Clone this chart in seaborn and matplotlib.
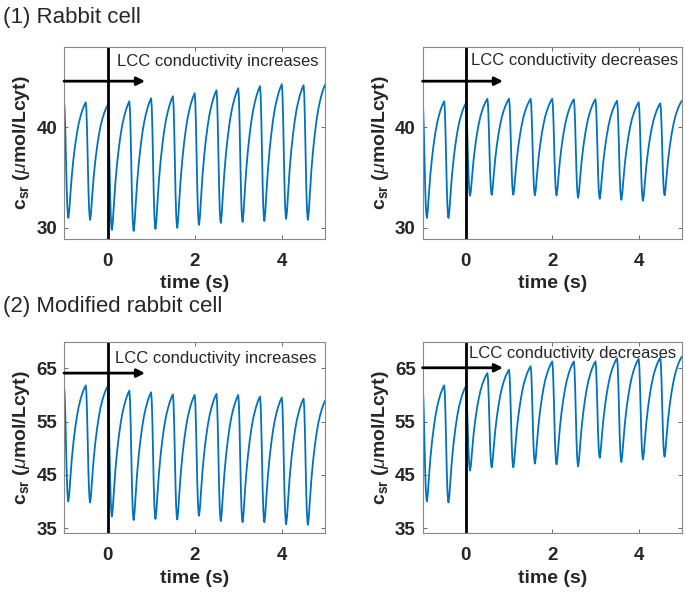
import numpy as np
import pandas as pd
import matplotlib
matplotlib.use('Agg')
import matplotlib.pyplot as plt
import seaborn as sns

# stimulus (peak) times, one every 0.5 s, plus the end of the window
peak_t = [-1.0, -0.5, 0.0, 0.5, 1.0, 1.5, 2.0, 2.5, 3.0, 3.5, 4.0, 4.5, 5.0]

# peaks / troughs
peaks_rabbit_inc = [42.6, 42.5, 42.2, 42.6, 42.9, 43.1, 43.4, 43.7, 43.9, 44.1, 44.3, 44.2, 44.3]
troughs_rabbit_inc = [31.0, 30.8, 29.8, 29.7, 29.9, 30.0, 30.3, 30.5, 30.6, 30.7, 30.9, 30.8]

peaks_rabbit_dec = [42.5, 42.6, 42.4, 42.85, 42.85, 42.85, 42.85, 42.8, 42.8, 42.65, 42.5, 42.4, 42.65]
troughs_rabbit_dec = [31.0, 31.0, 33.2, 33.3, 33.3, 33.25, 33.25, 33.0, 32.9, 32.8, 32.7, 33.25]

peaks_mod_inc = [61.6, 61.8, 61.6, 60.8, 60.5, 60.1, 60.0, 60.2, 60.0, 59.7, 59.5, 59.3, 59.0]
troughs_mod_inc = [40.0, 39.8, 37.2, 36.5, 36.7, 36.6, 37.3, 36.3, 36.1, 36.1, 35.7, 35.6]

peaks_mod_dec = [61.6, 61.8, 61.6, 64.1, 64.75, 65.4, 66.3, 66.3, 66.3, 66.9, 66.8, 67.0, 67.2]
troughs_mod_dec = [40.0, 39.8, 45.8, 46.4, 46.4, 47.1, 46.95, 46.6, 48.2, 47.4, 47.9, 48.4]

# shape of one beat (fraction of the swing)
drop_phase = [0.0, 0.15, 0.3, 0.45, 0.6, 0.75, 0.9, 1.0]
drop_frac = [1.0, 0.93, 0.75, 0.5, 0.27, 0.1, 0.02, 0.0]
rise_phase = [0.0, 0.05, 0.1, 0.2, 0.3, 0.4, 0.5, 0.6, 0.7, 0.8, 0.9, 1.0]
rise_frac = [0.0, 0.06, 0.17, 0.37, 0.52, 0.64, 0.74, 0.82, 0.88, 0.93, 0.97, 1.0]
drop_dur = 0.1
rise_dur = 0.4


def build_trace(peaks, troughs):
    t, c = [], []
    for k in range(len(troughs)):
        t0 = peak_t[k]
        p, tr, pn = peaks[k], troughs[k], peaks[k + 1]
        for ph, f in zip(drop_phase, drop_frac):
            t.append(t0 + drop_dur * ph)
            c.append(tr + (p - tr) * f)
        for ph, f in zip(rise_phase[1:], rise_frac[1:]):
            t.append(t0 + drop_dur + rise_dur * ph)
            c.append(tr + (pn - tr) * f)
    return pd.DataFrame({'time': t, 'csr': c})


sns.set_style('ticks')
plt.rcParams['font.family'] = ['Liberation Sans', 'DejaVu Sans']
plt.rcParams['mathtext.fontset'] = 'custom'
plt.rcParams['mathtext.rm'] = 'Liberation Sans'
plt.rcParams['mathtext.bf'] = 'Liberation Sans:bold'
plt.rcParams['mathtext.it'] = 'Liberation Sans:italic'

fig = plt.figure(figsize=(6.86, 5.92), dpi=100)

panels = [
    # rect, peaks, troughs, ylim, yticks, text, arrow y, text y, text x
    ([0.0933, 0.5963, 0.381, 0.3243], peaks_rabbit_inc, troughs_rabbit_inc, (28.9, 48.0), [30, 40],
     'LCC conductivity increases', 44.6, 46.6, 0.21),
    ([0.616, 0.5963, 0.378, 0.3243], peaks_rabbit_dec, troughs_rabbit_dec, (28.9, 48.0), [30, 40],
     'LCC conductivity decreases', 44.6, 46.7, 0.11),
    ([0.0933, 0.0991, 0.381, 0.3237], peaks_mod_inc, troughs_mod_inc, (34.0, 70.0), [35, 45, 55, 65],
     'LCC conductivity increases', 64.1, 66.9, 0.18),
    ([0.616, 0.0991, 0.378, 0.3237], peaks_mod_dec, troughs_mod_dec, (34.0, 70.0), [35, 45, 55, 65],
     'LCC conductivity decreases', 65.1, 67.8, 0.08),
]

for rect, pk, tr, ylim, yt, txt, ay, ty, tx in panels:
    ax = fig.add_axes(rect)
    df = build_trace(pk, tr)
    sns.lineplot(data=df, x='time', y='csr', ax=ax, color='#0072BD', lw=1.3,
                 estimator=None, sort=False)
    ax.axvline(0, color='k', lw=2)
    ax.annotate('', xy=(0.86, ay), xytext=(-1, ay),
                arrowprops=dict(arrowstyle='-|>', lw=2, color='k', mutation_scale=12,
                                shrinkA=0, shrinkB=0))
    ax.text(tx, ty, txt, fontsize=12, va='center', ha='left')
    ax.set_xlim(-1, 5)
    ax.set_ylim(*ylim)
    ax.set_xticks([0, 2, 4])
    ax.set_yticks(yt)
    ax.tick_params(direction='in', top=True, right=True, length=3, width=0.6,
                   color='#555555', labelsize=13.5, labelcolor='#262626')
    ax.tick_params(axis='x', pad=10)
    ax.tick_params(axis='y', pad=5)
    for lab in ax.get_xticklabels() + ax.get_yticklabels():
        lab.set_fontweight('bold')
    for sp in ax.spines.values():
        sp.set_visible(True)
        sp.set_color('#888888')
        sp.set_linewidth(0.8)
    ax.set_xlabel('time (s)', fontsize=14, fontweight='bold', color='#262626', labelpad=4)
    ax.set_ylabel(r'$\mathbf{c_{sr}}$ ($\mu$mol/Lcyt)', fontsize=14, fontweight='bold',
                  color='#262626', labelpad=3)

fig.text(0.004, 1 - 17 / 592, '(1) Rabbit cell', fontsize=16, va='center', ha='left')
fig.text(0.004, 1 - 307 / 592, '(2) Modified rabbit cell', fontsize=16, va='center', ha='left')

fig.savefig('out.png', dpi=100)
